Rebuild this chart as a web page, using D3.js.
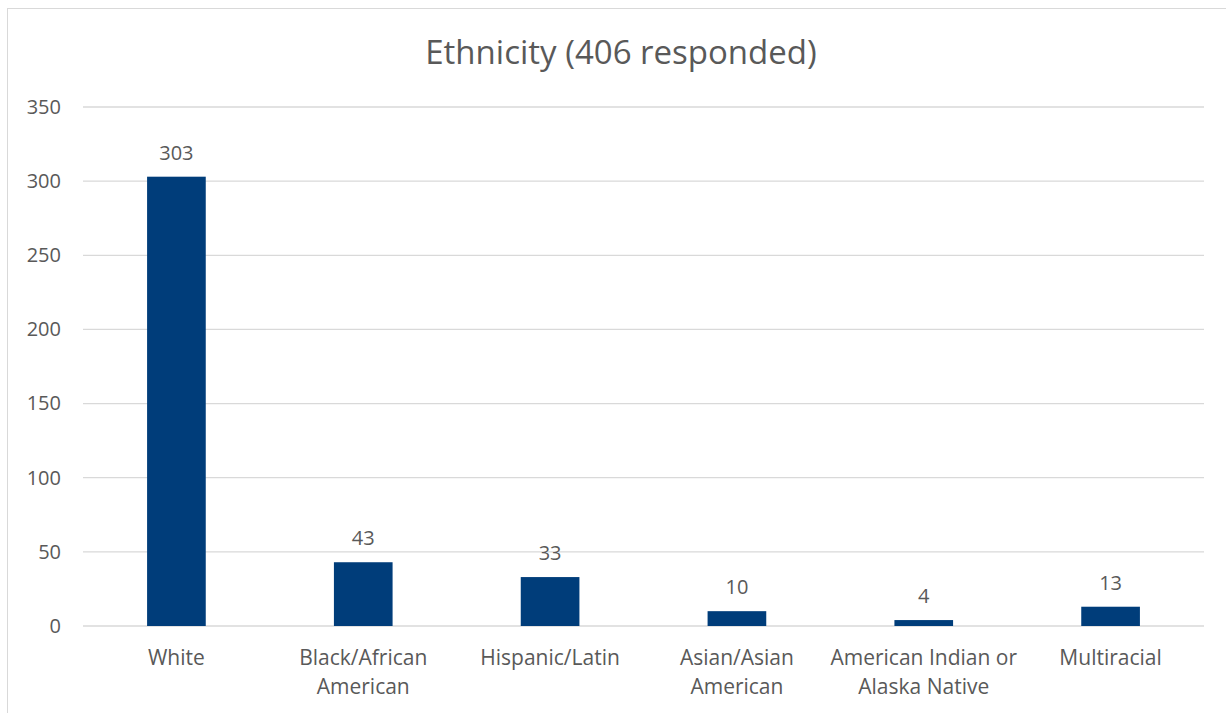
<!DOCTYPE html>
<html lang="en">
<head>
<meta charset="utf-8">
<title>Ethnicity</title>
<script src="https://cdn.jsdelivr.net/npm/d3@7"></script>
<style>
  body { margin: 0; background: #fff; }
  text { font-family: "Open Sans", sans-serif; fill: #595959; }
</style>
</head>
<body>
<div id="chart"></div>
<script>
// data
var categories = ["White", "Black/African American", "Hispanic/Latin", "Asian/Asian American", "American Indian or Alaska Native", "Multiracial"];
var labelLines = [["White"], ["Black/African", "American"], ["Hispanic/Latin"], ["Asian/Asian", "American"], ["American Indian or", "Alaska Native"], ["Multiracial"]];
var counts = [303, 43, 33, 10, 4, 13];
var yTicks = [0, 50, 100, 150, 200, 250, 300, 350];

var width = 1226, height = 713;
var margin = {left: 83, right: 22, top: 107, bottom: 87};

var svg = d3.select("#chart").append("svg")
    .attr("width", width)
    .attr("height", height);

// chart frame
svg.append("rect")
    .attr("x", 7.5).attr("y", 8.5)
    .attr("width", width).attr("height", height)
    .attr("fill", "none")
    .attr("stroke", "#d9d9d9")
    .attr("stroke-width", 1);

var x = d3.scaleBand()
    .domain(categories)
    .range([margin.left, width - margin.right])
    .paddingInner(0.686)
    .paddingOuter(0.343);

var y = d3.scaleLinear()
    .domain([0, 350])
    .range([height - margin.bottom, margin.top]);

// gridlines
svg.append("g")
    .selectAll("line")
    .data(yTicks)
    .join("line")
    .attr("x1", margin.left)
    .attr("x2", width - margin.right)
    .attr("y1", d => y(d))
    .attr("y2", d => y(d))
    .attr("stroke", "#d9d9d9")
    .attr("stroke-width", 1.3);

// y axis labels
var yAxis = d3.axisLeft(y).tickValues(yTicks).tickSize(0).tickPadding(22);
var gy = svg.append("g")
    .attr("transform", "translate(" + (margin.left) + ",0)")
    .call(yAxis);
gy.select(".domain").remove();
gy.selectAll("text")
    .style("font-family", "'Open Sans', sans-serif")
    .style("font-size", "20px")
    .attr("fill", "#595959");

// bars
svg.append("g")
    .selectAll("rect")
    .data(counts)
    .join("rect")
    .attr("x", (d, i) => x(categories[i]))
    .attr("width", x.bandwidth())
    .attr("y", d => y(d))
    .attr("height", d => y(0) - y(d))
    .attr("fill", "#003d7a");

// value labels
svg.append("g")
    .selectAll("text")
    .data(counts)
    .join("text")
    .attr("x", (d, i) => x(categories[i]) + x.bandwidth() / 2)
    .attr("y", d => y(d) - 17)
    .attr("text-anchor", "middle")
    .style("font-size", "20px")
    .text(d => d);

// category labels
var cat = svg.append("g")
    .selectAll("text")
    .data(labelLines)
    .join("text")
    .attr("x", (d, i) => x(categories[i]) + x.bandwidth() / 2)
    .attr("y", y(0) + 39)
    .attr("text-anchor", "middle")
    .style("font-size", "21px");
cat.selectAll("tspan")
    .data(d => d)
    .join("tspan")
    .attr("x", function () { return d3.select(this.parentNode).attr("x"); })
    .attr("dy", (d, i) => i === 0 ? 0 : 29)
    .text(d => d);

// title
svg.append("text")
    .attr("x", 621)
    .attr("y", 64)
    .attr("text-anchor", "middle")
    .style("font-size", "33px")
    .text("Ethnicity (406 responded)");
</script>
</body>
</html>
